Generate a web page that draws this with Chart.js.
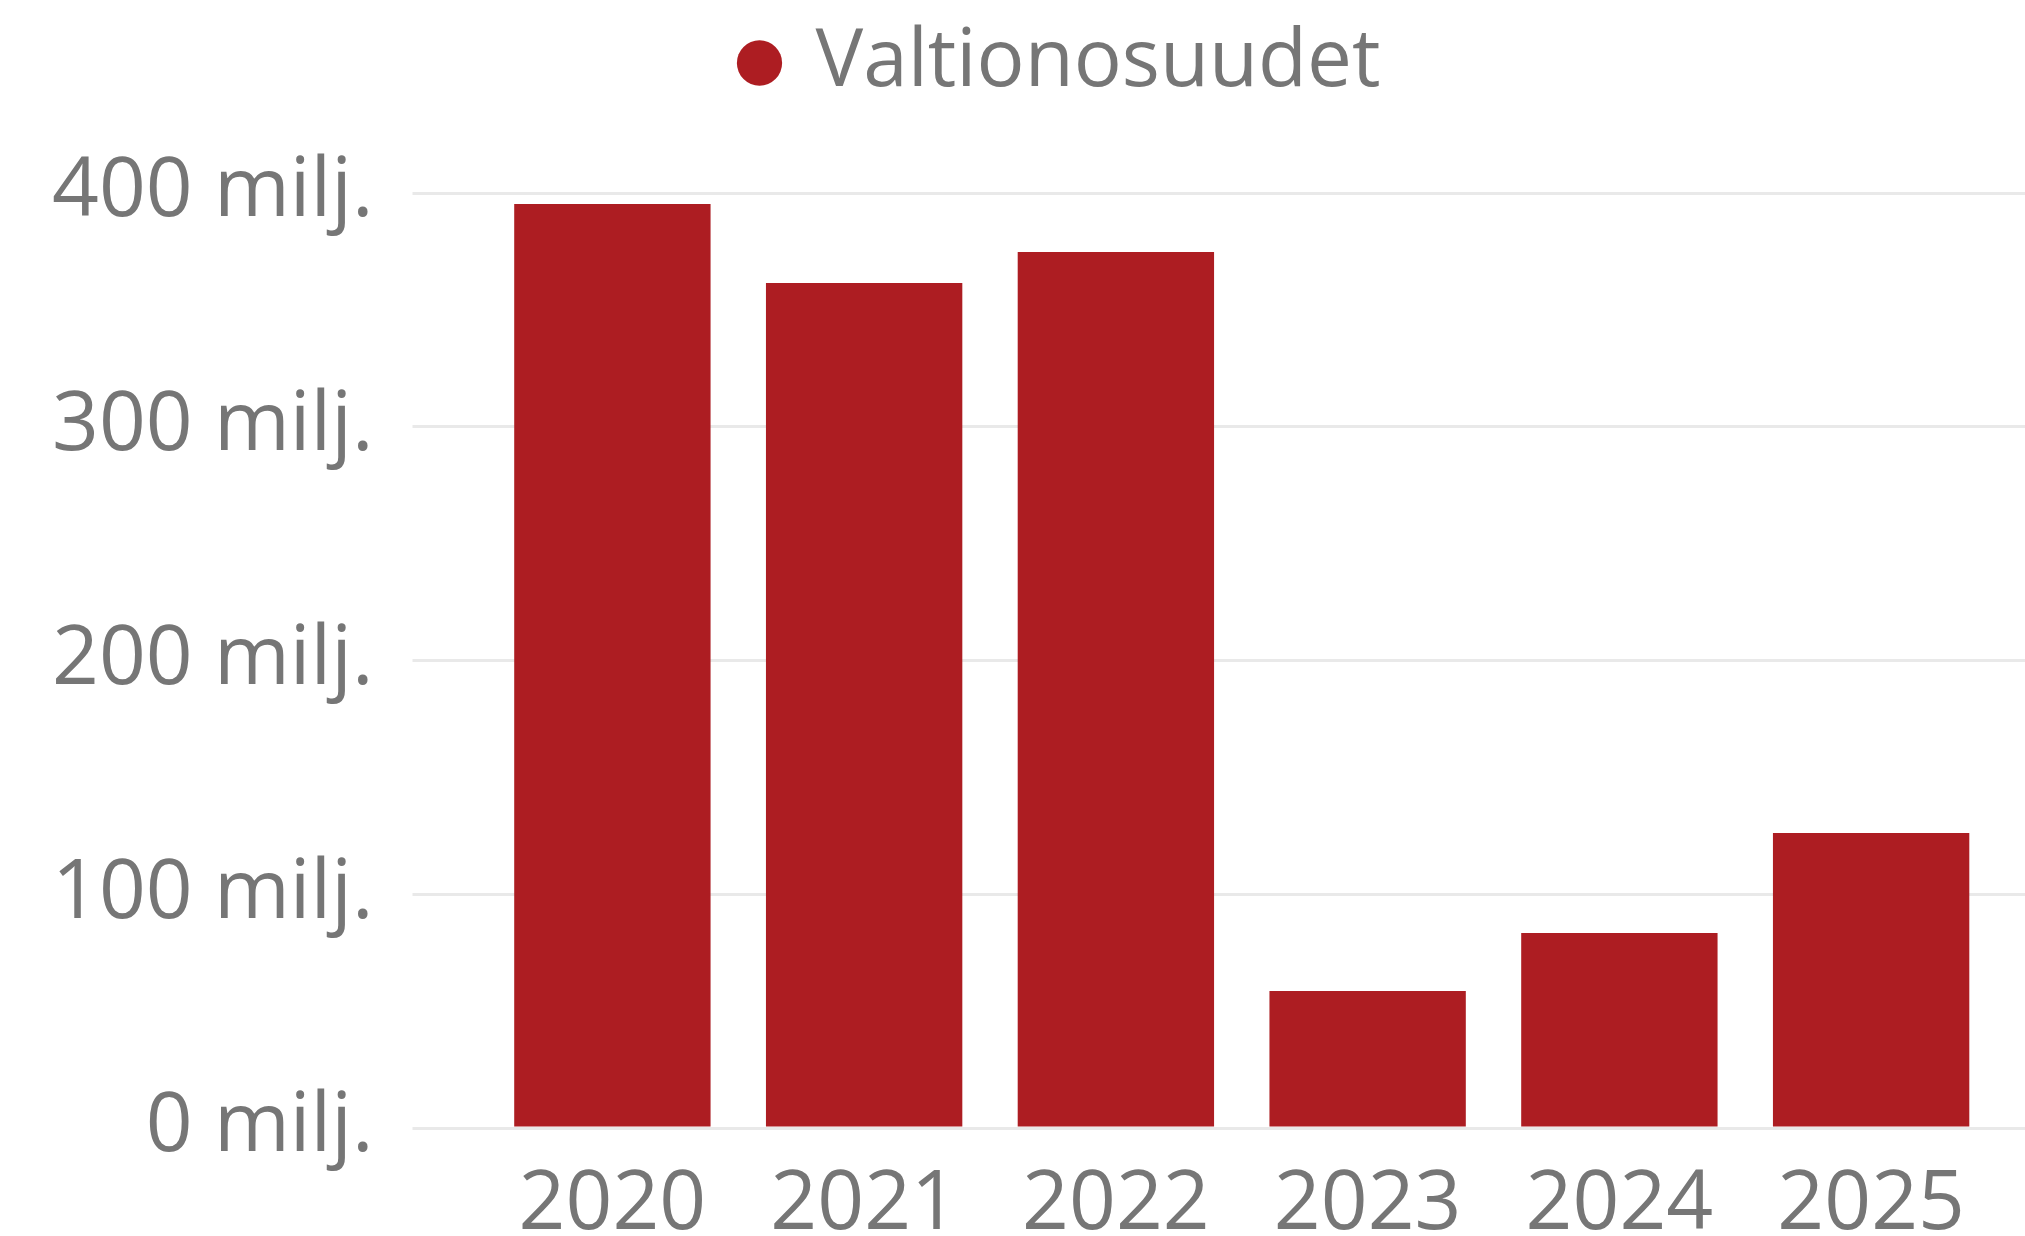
<!DOCTYPE html>
<html>
<head>
<meta charset="utf-8">
<script src="https://cdn.jsdelivr.net/npm/chart.js@4/dist/chart.umd.min.js"></script>
<style>
  html, body { margin: 0; padding: 0; background: #fff; }
  #wrap { width: 2025px; height: 1236px; }
</style>
</head>
<body>
<div id="wrap"><canvas id="chart"></canvas></div>
<script>
const years = ['2020', '2021', '2022', '2023', '2024', '2025']
const valtionosuudet = [395.3, 361.5, 374.8, 58.6, 83.4, 126.2]
const yTickLabels = ['0 milj.', '100 milj.', '200 milj.', '300 milj.', '400 milj.']

const textColor = '#767676'
const gridColor = '#e9e9e9'
const barColor = '#ad1d22'
const fontFamily = "'Open Sans', 'Noto Sans', sans-serif"

// legend needs more room under it than chart.js gives, and sits a bit right of centre
const legendGap = {
    id: 'legendGap',
    beforeInit(chart) {
        const fit = chart.legend.fit
        chart.legend.fit = function () {
            fit.bind(chart.legend)()
            this.height += 80
        }
    },
    afterLayout(chart) {
        chart.legend.left += 43
        chart.legend.right += 43
    }
}

new Chart(document.getElementById('chart'), {
    type: 'bar',
    data: {
        labels: years,
        datasets: [
            {
                label: 'Valtionosuudet',
                data: valtionosuudet,
                backgroundColor: barColor,
                borderWidth: 0,
                categoryPercentage: 1,
                barPercentage: 0.78,
            },
        ]
    },
    options: {
        responsive: true,
        maintainAspectRatio: false,
        animation: false,
        layout: { padding: { left: 13, right: 0, top: 0, bottom: 0 } },
        plugins: {
            tooltip: { enabled: false },
            legend: {
                position: 'top',
                labels: {
                    usePointStyle: true,
                    pointStyle: 'circle',
                    boxWidth: 32,
                    boxHeight: 32,
                    padding: 23,
                    color: textColor,
                    font: { size: 80, family: fontFamily },
                },
            },
        },
        scales: {
            x: {
                grid: { display: false, drawTicks: false },
                border: { display: false },
                ticks: {
                    color: textColor,
                    padding: 37,
                    font: { size: 82, family: fontFamily, lineHeight: 1 },
                },
                afterFit: (scale) => { scale.height = 108 },
            },
            y: {
                min: 0,
                max: 400,
                border: { display: false },
                grid: { color: gridColor, lineWidth: 3, tickLength: 74 },
                ticks: {
                    stepSize: 100,
                    padding: 39,
                    color: textColor,
                    font: { size: 82, family: fontFamily },
                    callback: (value) => yTickLabels[value / 100],
                },
            },
            y2: {
                position: 'right',
                min: 0,
                max: 400,
                border: { display: false },
                grid: { color: gridColor, lineWidth: 3, tickLength: 28, drawOnChartArea: false },
                ticks: { stepSize: 100, display: false },
            },
        },
    },
    plugins: [legendGap],
})
</script>
</body>
</html>
